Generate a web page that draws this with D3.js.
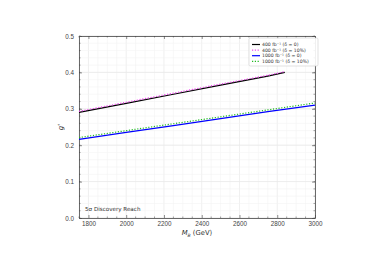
<!DOCTYPE html>
<html>
<head>
<meta charset="utf-8">
<script src="https://cdn.jsdelivr.net/npm/d3@7"></script>
<style>
  body { margin: 0; background: #fff; }
  svg { display: block; font-family: "DejaVu Sans", sans-serif; }
</style>
</head>
<body>
<svg id="chart" width="381" height="269"></svg>
<script>
'use strict';

// Données
const masse400 = [1750, 2000, 2250, 2500, 2750, 2840];
const g400 = [0.290, 0.315, 0.340, 0.365, 0.390, 0.400];
const g400delta = [0.293, 0.318, 0.343, 0.368, 0.392, 0.402];
const masse1000 = [1750, 2000, 2250, 2500, 2750, 3000];
const g1000 = [0.216, 0.235, 0.254, 0.273, 0.292, 0.310];
const g1000delta = [0.221, 0.240, 0.259, 0.278, 0.297, 0.316];
const ticksX = [1800, 2000, 2200, 2400, 2600, 2800, 3000];
const ticksY = [0.0, 0.1, 0.2, 0.3, 0.4, 0.5];
const legende = [
    {label: "400 fb\u207B\u00B9 (\u03B4 = 0)", couleur: "#000", tirets: null},
    {label: "400 fb\u207B\u00B9 (\u03B4 = 10%)", couleur: "#ee44ee", tirets: "1.2,1.6"},
    {label: "1000 fb\u207B\u00B9 (\u03B4 = 0)", couleur: "#0000ff", tirets: null},
    {label: "1000 fb\u207B\u00B9 (\u03B4 = 10%)", couleur: "#22bb22", tirets: "1.2,1.6"}
];

const svg = d3.select("#chart");
const gauche = 79, droite = 315, haut = 36, bas = 218;

const x = d3.scaleLinear().domain([1750, 3000]).range([gauche, droite]);
const y = d3.scaleLinear().domain([0, 0.5]).range([bas, haut]);

// Grille mineure puis majeure
const grille = svg.append("g");
d3.range(1750, 3001, 50).forEach(v => {
    grille.append("line").attr("x1", x(v)).attr("x2", x(v)).attr("y1", haut).attr("y2", bas)
        .attr("stroke", ticksX.includes(v) ? "#e4e4e4" : "#f4f4f4").attr("stroke-width", 0.6);
});
d3.range(0, 0.501, 0.02).forEach(v => {
    grille.append("line").attr("x1", gauche).attr("x2", droite).attr("y1", y(v)).attr("y2", y(v))
        .attr("stroke", "#f4f4f4").attr("stroke-width", 0.6);
});
ticksY.forEach(v => {
    grille.append("line").attr("x1", gauche).attr("x2", droite).attr("y1", y(v)).attr("y2", y(v))
        .attr("stroke", "#e4e4e4").attr("stroke-width", 0.6);
});

// Axes (ticks vers l'intérieur, sur les quatre côtés)
function styleAxe(g) {
    g.select(".domain").attr("stroke", "#444").attr("stroke-width", 0.8);
    g.selectAll(".tick line").attr("stroke", "#444").attr("stroke-width", 0.6);
    g.selectAll(".tick text").attr("fill", "#444").attr("font-size", 6.3);
}
const axeBas = svg.append("g").attr("transform", `translate(0,${bas})`)
    .call(d3.axisBottom(x).tickValues(ticksX).tickSizeInner(-3).tickSizeOuter(0).tickPadding(4).tickFormat(d3.format("d")));
styleAxe(axeBas);
const axeHaut = svg.append("g").attr("transform", `translate(0,${haut})`)
    .call(d3.axisTop(x).tickValues(ticksX).tickSizeInner(-3).tickSizeOuter(0).tickFormat(""));
styleAxe(axeHaut);
const axeGauche = svg.append("g").attr("transform", `translate(${gauche},0)`)
    .call(d3.axisLeft(y).tickValues(ticksY).tickSizeInner(-3).tickSizeOuter(0).tickPadding(5).tickFormat(d3.format(".1f")));
styleAxe(axeGauche);
const axeDroite = svg.append("g").attr("transform", `translate(${droite},0)`)
    .call(d3.axisRight(y).tickValues(ticksY).tickSizeInner(-3).tickSizeOuter(0).tickFormat(""));
styleAxe(axeDroite);

// Ticks mineurs
const mineurs = svg.append("g").attr("stroke", "#444").attr("stroke-width", 0.5);
d3.range(1750, 3001, 50).filter(v => !ticksX.includes(v)).forEach(v => {
    mineurs.append("line").attr("x1", x(v)).attr("x2", x(v)).attr("y1", bas).attr("y2", bas - 1.5);
    mineurs.append("line").attr("x1", x(v)).attr("x2", x(v)).attr("y1", haut).attr("y2", haut + 1.5);
});
d3.range(0, 0.501, 0.02).forEach(v => {
    mineurs.append("line").attr("x1", gauche).attr("x2", gauche + 1.5).attr("y1", y(v)).attr("y2", y(v));
    mineurs.append("line").attr("x1", droite).attr("x2", droite - 1.5).attr("y1", y(v)).attr("y2", y(v));
});

// Courbes
const ligne = d3.line().x(d => x(d[0])).y(d => y(d[1]));
function tracer(masses, valeurs, couleur, tirets, epaisseur) {
    svg.append("path")
        .datum(masses.map((m, i) => [m, valeurs[i]]))
        .attr("d", ligne)
        .attr("fill", "none")
        .attr("stroke", couleur)
        .attr("stroke-width", epaisseur)
        .attr("stroke-dasharray", tirets);
}
tracer(masse400, g400, legende[0].couleur, null, 1.2);
tracer(masse400, g400delta, legende[1].couleur, legende[1].tirets, 1.2);
tracer(masse1000, g1000, legende[2].couleur, null, 1.2);
tracer(masse1000, g1000delta, legende[3].couleur, legende[3].tirets, 1.2);

// Légende
const boite = svg.append("g").attr("transform", "translate(249,38)");
boite.append("rect").attr("width", 69).attr("height", 28).attr("rx", 1.5)
    .attr("fill", "#fff").attr("fill-opacity", 0.9).attr("stroke", "#ccc").attr("stroke-width", 0.6);
legende.forEach((d, i) => {
    const yy = 6.5 + i * 5.6;
    boite.append("line").attr("x1", 3).attr("x2", 11).attr("y1", yy).attr("y2", yy)
        .attr("stroke", d.couleur).attr("stroke-width", 1.2).attr("stroke-dasharray", d.tirets);
    boite.append("text").attr("x", 13).attr("y", yy + 1.6).attr("font-size", 4.6).attr("fill", "#333").text(d.label);
});

// Textes
svg.append("text").attr("x", 85).attr("y", 211).attr("font-size", 5.6).attr("fill", "#333")
    .text("5\u03C3 Discovery Reach");
svg.append("text").attr("x", (gauche + droite) / 2).attr("y", 235).attr("text-anchor", "middle")
    .attr("font-size", 6.8).attr("fill", "#333")
    .html('<tspan font-style="italic">M</tspan><tspan font-style="italic" font-size="4.5" dy="1.5">B</tspan><tspan dy="-1.5"> (GeV)</tspan>');
svg.append("text").attr("transform", `translate(63,${(haut + bas) / 2}) rotate(-90)`).attr("text-anchor", "middle")
    .attr("font-size", 6.8).attr("fill", "#333")
    .html('<tspan font-style="italic">g</tspan><tspan font-size="4.5" dy="-2.5">*</tspan>');
</script>
</body>
</html>
